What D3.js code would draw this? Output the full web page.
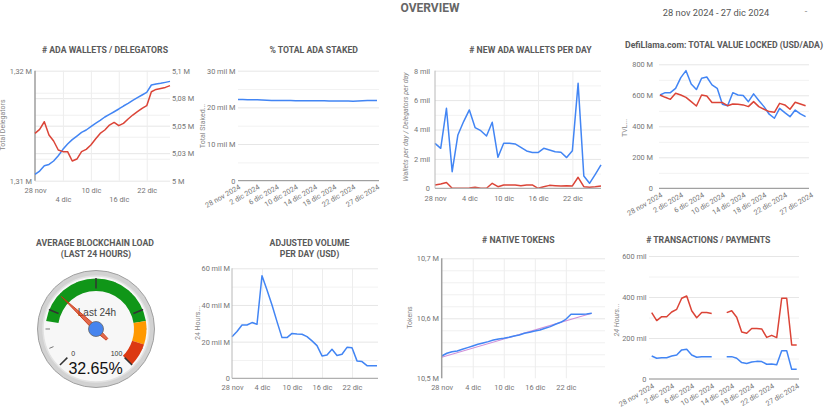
<!DOCTYPE html>
<html><head><meta charset="utf-8">
<script src="https://cdn.jsdelivr.net/npm/d3@7/dist/d3.min.js"></script>
<style>html,body{margin:0;padding:0;background:#fff;overflow:hidden}</style>
</head><body>
<svg id="chart" width="825" height="415"></svg>
<script>
// ---------------- DATA ----------------
const startDay = "2024-11-28";
const endDay = "2024-12-27";
const monthAbbr = ["ene","feb","mar","abr","may","jun","jul","ago","sep","oct","nov","dic"];
const shortTickDays = ["2024-11-28","2024-12-04","2024-12-10","2024-12-16","2024-12-22"];
const longTickDays = ["2024-11-28","2024-12-02","2024-12-06","2024-12-10","2024-12-14","2024-12-18","2024-12-22","2024-12-27"];

// # ADA WALLETS / DELEGATORS (millions)
const walletsTotal = [5.0058,5.0088,5.0136,5.0148,5.0179,5.0227,5.0285,5.0333,5.0373,5.0406,5.0439,5.0461,5.0491,5.0521,5.0548,5.0579,5.0603,5.0627,5.0652,5.0679,5.0703,5.0730,5.0755,5.0779,5.0803,5.0870,5.0879,5.0885,5.0894,5.0903];
const delegatorsTotal = [1.31430,1.31467,1.31536,1.31415,1.31361,1.31279,1.31264,1.31264,1.31179,1.31197,1.31264,1.31285,1.31324,1.31379,1.31430,1.31461,1.31506,1.31530,1.31500,1.31521,1.31561,1.31597,1.31627,1.31658,1.31682,1.31809,1.31830,1.31839,1.31848,1.31864];
const walletsRightTicks = [5.0,5.025,5.05,5.075,5.1];
const walletsRightLabels = ["5 M","5,03 M","5,05 M","5,08 M","5,1 M"];
const delegLeftTicks = [1.31,1.32];
const delegLeftLabels = ["1,31 M","1,32 M"];
const delegMinorGrid = [1.312,1.314,1.316,1.318];

// % TOTAL ADA STAKED (mil M)
const stakedTotal = [22.15,22.15,22.1,22.1,22.05,22.0,21.95,21.9,21.9,21.85,21.85,21.85,21.8,21.8,21.8,21.8,21.8,21.8,21.8,21.75,21.75,21.75,21.75,21.75,21.7,21.75,21.8,21.85,21.85,21.85];
const stakedTicks = [0,10,20,30];
const stakedLabels = ["0","10 mil M","20 mil M","30 mil M"];
const stakedMinor = [5,15,25];

// # NEW ADA WALLETS PER DAY (mil)
const newWallets = [3.06,2.72,5.44,1.13,3.63,4.54,5.33,4.13,3.92,3.56,4.49,2.11,3.06,3.06,3.02,2.79,2.54,2.43,2.43,2.72,2.61,2.49,2.45,2.09,2.56,7.14,0.84,0.34,0.95,1.59];
const newDelegators = [0.23,0.29,0.39,0,0,0,0.02,0.07,0,0,0.34,0.11,0.23,0.23,0.23,0.18,0.23,0.23,0,0.11,0.2,0.18,0.16,0.18,0.16,0.75,0.11,0.07,0.11,0.16];
const newTicks = [0,2,4,6,8];
const newLabels = ["0","2 mil","4 mil","6 mil","8 mil"];
const newMinor = [1,3,5,7];

// DefiLlama TVL (M)
const tvlUSD = [602,617,617,645,714,759,673,637,710,718,667,645,542,533,617,602,598,559,609,566,527,478,452,516,488,462,505,480,462];
const tvlADA = [602,587,574,613,602,587,559,531,602,596,553,553,553,533,544,542,538,527,559,527,510,495,490,548,538,510,555,544,533];
const tvlTicks = [0,200,400,600,800];
const tvlLabels = ["0","200 M","400 M","600 M","800 M"];
const tvlMinor = [100,300,500,700];

// Gauge
const gaugeValue = 32.65;
const gaugeBands = [{from:20,to:80,color:"#109618"},{from:80,to:90,color:"#ff9900"},{from:90,to:100,color:"#dc3912"}];
const gaugeMajor = [0,25,50,75,100];
const gaugeMinor = [8.33,16.67,33.33,41.67,58.33,66.67,83.33,91.67];

// ADJUSTED VOLUME PER DAY (mil M)
const adjVolume = [22.7,25.5,29.1,29.1,30.4,29.5,56.0,48.2,40.0,30.9,22.2,22.2,24.5,24.2,24.0,22.7,20.4,17.8,12.2,12.7,15.8,12.4,13.1,16.9,16.7,9.5,9.1,6.9,6.9,6.9];
const volTicks = [0,20,40,60];
const volLabels = ["0","20 mil M","40 mil M","60 mil M"];
const volMinor = [10,30,50];

// # NATIVE TOKENS (M)
const nativeTokens = [10.5372,10.5417,10.5444,10.5456,10.5483,10.5511,10.5539,10.5567,10.5589,10.5611,10.5639,10.5656,10.5667,10.5683,10.5706,10.5722,10.5750,10.5767,10.5789,10.5806,10.5833,10.5861,10.5900,10.5933,10.5983,10.6067,10.6067,10.6067,10.6072,10.6083];
const tokensTrendEnds = [10.535,10.6083];
const tokTicks = [10.5,10.6,10.7];
const tokLabels = ["10,5 M","10,6 M","10,7 M"];
const tokMinor = [10.52,10.54,10.56,10.58,10.62,10.64,10.66,10.68];

// # TRANSACTIONS / PAYMENTS (mil)
const txTransactions = [324,285,304,304,327,340,394,405,333,299,324,324,320,null,null,324,333,301,229,223,246,246,244,203,213,202,394,394,166,166];
const txPayments = [112,101,104,104,112,117,142,145,117,106,109,109,109,null,null,109,109,101,80,76,83,86,85,72,73,70,138,138,47,47];
const txTicks = [0,200,400,600];
const txLabels = ["0","200 mil","400 mil","600 mil"];
const txMinor = [100,300,500];

// ---------------- DRAW ----------------
const FONT = "Roboto, 'Noto Sans', sans-serif";
const GFONT = "'Liberation Sans', Arial, sans-serif";
const BLUE = "#4285f4", RED = "#db4437";
const parse = d3.timeParse("%Y-%m-%d");
const d0 = parse(startDay), d1 = parse(endDay);
const days = d3.timeDay.range(d0, d3.timeDay.offset(d1, 1));
const shortTicks = shortTickDays.map(parse);
const longTicks = longTickDays.map(parse);
const fmtShort = d => `${d.getDate()} ${monthAbbr[d.getMonth()]}`;
const fmtLong = d => `${d.getDate()} ${monthAbbr[d.getMonth()]} ${d.getFullYear()}`;

const svg = d3.select("#chart").attr("font-family", FONT);

function txt(x, y, s, opt = {}) {
  const t = svg.append("text").attr("x", x).attr("y", y).text(s)
    .attr("font-family", opt.family || FONT)
    .attr("font-size", opt.size || 8)
    .attr("fill", opt.fill || "#666")
    .attr("text-anchor", opt.anchor || "middle");
  if (opt.weight) t.attr("font-weight", opt.weight);
  if (opt.italic) t.attr("font-style", "italic");
  if (opt.rotate) t.attr("transform", `rotate(${opt.rotate},${x},${y})`);
  return t;
}
function title(x, y, s) { return txt(x, y, s, {size: 8.7, weight: 700, fill: "#5a5a5a"}); }

function hGrid(y, vals, x0, x1, color) {
  const a = svg.append("g").attr("transform", `translate(${x0},0)`)
    .call(d3.axisLeft(y).tickValues(vals).tickSize(-(x1 - x0)).tickFormat(""));
  a.select(".domain").remove();
  a.selectAll("line").attr("stroke", color);
}
function vGrid(x, vals, yTop, yBot, color) {
  const a = svg.append("g").attr("transform", `translate(0,${yBot})`)
    .call(d3.axisBottom(x).tickValues(vals).tickSize(-(yBot - yTop)).tickFormat(""));
  a.select(".domain").remove();
  a.selectAll("line").attr("stroke", color);
}
function yLabels(y, vals, labels, xPos, side = "left") {
  const ax = (side === "left" ? d3.axisLeft(y) : d3.axisRight(y))
    .tickValues(vals).tickFormat((d, i) => labels[i]).tickSize(0).tickPadding(0);
  const a = svg.append("g").attr("transform", `translate(${xPos},0)`).call(ax);
  a.select(".domain").remove();
  a.selectAll("text").attr("font-family", FONT).attr("font-size", 7.4).attr("fill", "#757575");
}
function xLabelsFlat(x, ticks, yPos, twoRows) {
  const a = svg.append("g").attr("transform", `translate(0,${yPos})`)
    .call(d3.axisBottom(x).tickValues(ticks).tickFormat(fmtShort).tickSize(0).tickPadding(0));
  a.select(".domain").remove();
  a.selectAll("text").attr("font-family", FONT).attr("font-size", 7.4).attr("fill", "#757575")
    .attr("dy", "0.71em").attr("y", (d, i) => (twoRows && i % 2) ? 9 : 0);
}
function xLabelsRot(x, ticks, yPos) {
  const a = svg.append("g").attr("transform", `translate(0,${yPos})`)
    .call(d3.axisBottom(x).tickValues(ticks).tickFormat(fmtLong).tickSize(0).tickPadding(0));
  a.select(".domain").remove();
  a.selectAll("text").attr("font-family", FONT).attr("font-size", 7.2).attr("fill", "#757575")
    .attr("text-anchor", "end").attr("y", 0).attr("dy", "0.71em").attr("transform", "rotate(-30)");
}
function baseline(x0, x1, yv, color = "#9a9a9a", w = 1) {
  svg.append("line").attr("x1", x0).attr("x2", x1).attr("y1", yv).attr("y2", yv).attr("stroke", color).attr("stroke-width", w);
}
function vline(xv, y0, y1, color = "#aaa", w = 1) {
  svg.append("line").attr("x1", xv).attr("x2", xv).attr("y1", y0).attr("y2", y1).attr("stroke", color).attr("stroke-width", w);
}
function series(x, y, vals, color, w = 1.5) {
  const line = d3.line().defined(v => v != null).x((v, i) => x(days[i])).y(v => y(v));
  svg.append("path").datum(vals).attr("d", line).attr("fill", "none").attr("stroke", color)
    .attr("stroke-width", w).attr("stroke-linejoin", "round");
}

// Header
txt(430, 12, "OVERVIEW", {size: 12, weight: 700, fill: "#666"});
txt(716, 16, "28 nov 2024 - 27 dic 2024", {size: 9.3, fill: "#555"});
txt(806, 14, "-", {size: 9, fill: "#888"});

// ---- Chart 1: ADA wallets / delegators ----
{
  const x = d3.scaleTime().domain([d0, d1]).range([35, 170]);
  const yL = d3.scaleLinear().domain([1.31, 1.32]).range([180.7, 70.7]);
  const yR = d3.scaleLinear().domain([5.0, 5.1]).range([180.7, 70.7]);
  hGrid(yL, delegMinorGrid, 35, 170, "#f0f0f0");
  hGrid(yR, walletsRightTicks, 35, 170, "#e6e6e6");
  vGrid(x, shortTicks.slice(1), 70.7, 180.7, "#ededed");
  vline(35, 70.7, 180.7, "#9e9e9e", 1.5);
  series(x, yR, walletsTotal, BLUE);
  series(x, yL, delegatorsTotal, RED);
  yLabels(yL, delegLeftTicks, delegLeftLabels, 32);
  yLabels(yR, walletsRightTicks, walletsRightLabels, 172, "right");
  xLabelsFlat(x, shortTicks, 187.5, true);
  title(105, 53, "# ADA WALLETS / DELEGATORS");
  txt(5, 125, "Total Delegators", {size: 7, fill: "#888", rotate: -90});
}

// ---- Chart 2: % total ADA staked ----
{
  const x = d3.scaleTime().domain([d0, d1]).range([238, 377]);
  const y = d3.scaleLinear().domain([0, 30]).range([180.7, 70.7]);
  hGrid(y, stakedMinor, 238, 379, "#f2f2f2");
  hGrid(y, stakedTicks.slice(1), 238, 379, "#e6e6e6");
  series(x, y, stakedTotal, BLUE);
  baseline(238, 379, y(0), "#8a8a8a");
  yLabels(y, stakedTicks, stakedLabels, 235.5);
  xLabelsRot(x, longTicks, 184);
  title(313.7, 52.7, "% TOTAL ADA STAKED");
  txt(205, 126, "Total Staked...", {size: 7, fill: "#888", rotate: -90});
}

// ---- Chart 3: new ADA wallets per day ----
{
  const x = d3.scaleTime().domain([d0, d1]).range([435, 601]);
  const y = d3.scaleLinear().domain([0, 8]).range([188.3, 70.7]);
  hGrid(y, newMinor, 435, 601, "#f2f2f2");
  hGrid(y, newTicks.slice(1), 435, 601, "#e6e6e6");
  vGrid(x, shortTicks.slice(1), 70.7, 188.3, "#ededed");
  series(x, y, newWallets, BLUE);
  series(x, y, newDelegators, RED);
  baseline(435, 601, y(0), "#b0b0b0", 1.2);
  vline(435, 70.7, 188.3, "#b8b8b8", 1);
  yLabels(y, newTicks, newLabels, 430);
  xLabelsFlat(x, shortTicks, 195.5, false);
  title(530.5, 52.7, "# NEW ADA WALLETS PER DAY");
  txt(408, 127, "Wallets per day / Delegators per day", {size: 7, fill: "#888", rotate: -90, italic: true});
}

// ---- Chart 4: DefiLlama TVL ----
{
  const x = d3.scaleTime().domain([d0, d1]).range([660, 810.8]);
  const y = d3.scaleLinear().domain([0, 800]).range([188.3, 64.3]);
  hGrid(y, tvlMinor, 659, 809, "#f2f2f2");
  hGrid(y, tvlTicks.slice(1), 659, 809, "#e6e6e6");
  series(x, y, tvlUSD, BLUE);
  series(x, y, tvlADA, RED);
  baseline(659, 809, y(0), "#8a8a8a");
  yLabels(y, tvlTicks, tvlLabels, 653);
  xLabelsRot(x, longTicks, 192);
  title(724, 47.7, "DefiLlama.com: TOTAL VALUE LOCKED (USD/ADA)");
  txt(626.5, 128, "TVL...", {size: 7, fill: "#888", rotate: -90});
}

// ---- Chart 5: Gauge ----
{
  title(95, 246, "AVERAGE BLOCKCHAIN LOAD");
  title(96, 257, "(LAST 24 HOURS)");
  const cx = 96, cy = 329;
  const g = svg.append("g").attr("transform", `translate(${cx},${cy})`);
  const ang = d3.scaleLinear().domain([0, 100]).range([-135, 135]);
  const rad = a => a * Math.PI / 180;
  const pt = (r, v) => [r * Math.sin(rad(ang(v))), -r * Math.cos(rad(ang(v)))];
  g.append("circle").attr("r", 58.5).attr("fill", "#d2d2d2").attr("stroke", "#a0a0a0").attr("stroke-width", 1);
  g.append("circle").attr("r", 53).attr("fill", "#f7f7f7").attr("stroke", "#e2e2e2").attr("stroke-width", 1.5);
  gaugeMinor.forEach(v => {
    const [xa, ya] = pt(46, v), [xb, yb] = pt(50.5, v);
    g.append("line").attr("x1", xa).attr("y1", ya).attr("x2", xb).attr("y2", yb).attr("stroke", "#777").attr("stroke-width", 1);
  });
  const arc = d3.arc().innerRadius(38).outerRadius(50.5);
  gaugeBands.forEach(b => g.append("path")
    .attr("d", arc({startAngle: rad(ang(b.from)), endAngle: rad(ang(b.to))})).attr("fill", b.color));
  gaugeMajor.forEach(v => {
    const [xa, ya] = pt(40.5, v), [xb, yb] = pt(51, v);
    g.append("line").attr("x1", xa).attr("y1", ya).attr("x2", xb).attr("y2", yb).attr("stroke", "#333").attr("stroke-width", 1.5);
  });
  const [lx0, ly0] = pt(33, 0), [lx1, ly1] = pt(33, 100);
  g.append("text").attr("x", lx0 - 1.5).attr("y", ly0 + 4).text(gaugeMajor[0]).attr("font-family", GFONT).attr("font-size", 7).attr("fill", "#333").attr("text-anchor", "start");
  g.append("text").attr("x", lx1 + 3).attr("y", ly1 + 4).text(gaugeMajor[4]).attr("font-family", GFONT).attr("font-size", 7).attr("fill", "#333").attr("text-anchor", "end");
  g.append("text").attr("x", 1).attr("y", -13.5).text("Last 24h").attr("font-family", GFONT).attr("font-size", 10).attr("fill", "#444").attr("text-anchor", "middle");
  g.append("text").attr("x", -0.5).attr("y", 44.5).text(gaugeValue.toFixed(2) + "%").attr("font-family", GFONT).attr("font-size", 16).attr("fill", "#111").attr("text-anchor", "middle");
  const needle = [[0, -47.5], [2.4, -2], [1.2, 15], [-1.2, 15], [-2.4, -2]];
  g.append("polygon").attr("points", needle.map(p => p.join(",")).join(" "))
    .attr("transform", `rotate(${ang(gaugeValue)})`)
    .attr("fill", "#dc3912").attr("fill-opacity", 0.75).attr("stroke", "#c63310").attr("stroke-width", 0.8);
  g.append("circle").attr("r", 7.5).attr("fill", "#4684ee").attr("stroke", "#666").attr("stroke-width", 0.8);
}

// ---- Chart 6: Adjusted volume ----
{
  const x = d3.scaleTime().domain([d0, d1]).range([232, 377]);
  const y = d3.scaleLinear().domain([0, 60]).range([378.3, 268.3]);
  hGrid(y, volMinor, 232, 378, "#f2f2f2");
  hGrid(y, volTicks.slice(1), 232, 378, "#e6e6e6");
  vGrid(x, shortTicks.slice(1), 268.3, 378.3, "#ededed");
  series(x, y, adjVolume, BLUE);
  baseline(232, 378, y(0), "#b0b0b0", 1.2);
  vline(232, 268.3, 378.3, "#b8b8b8", 1);
  yLabels(y, volTicks, volLabels, 230);
  xLabelsFlat(x, shortTicks, 384.5, false);
  title(309.5, 246, "ADJUSTED VOLUME");
  title(309.5, 257, "PER DAY (USD)");
  txt(200, 323, "24 Hours...", {size: 7, fill: "#888", rotate: -90});
}

// ---- Chart 7: Native tokens ----
{
  const x = d3.scaleTime().domain([d0, d1]).range([441.7, 591.7]);
  const y = d3.scaleLinear().domain([10.5, 10.7]).range([378.3, 258.3]);
  hGrid(y, tokMinor, 441.7, 605, "#f0f0f0");
  hGrid(y, tokTicks.slice(1), 441.7, 605, "#e6e6e6");
  vGrid(x, shortTicks.slice(1), 258.3, 378.3, "#ededed");
  const tl = d3.line().x((v, i) => x(i === 0 ? d0 : d1)).y(v => y(v));
  svg.append("path").datum(tokensTrendEnds).attr("d", tl).attr("fill", "none").attr("stroke", "#cf8fd8").attr("stroke-width", 1.1);
  series(x, y, nativeTokens, BLUE);
  vline(441.7, 258.3, 378.3, "#a0a0a0", 1.5);
  yLabels(y, tokTicks, tokLabels, 439);
  xLabelsFlat(x, shortTicks, 384.5, false);
  title(518.3, 243.3, "# NATIVE TOKENS");
  txt(411.5, 317.5, "Tokens", {size: 7, fill: "#888", rotate: -90});
}

// ---- Chart 8: Transactions / payments ----
{
  const x = d3.scaleTime().domain([d0, d1]).range([651.7, 796.7]);
  const y = d3.scaleLinear().domain([0, 600]).range([379, 256]);
  hGrid(y, txMinor, 649, 799, "#f2f2f2");
  hGrid(y, txTicks.slice(1), 649, 799, "#e6e6e6");
  series(x, y, txTransactions, RED);
  series(x, y, txPayments, BLUE);
  baseline(649, 799, y(0), "#8a8a8a");
  yLabels(y, txTicks, txLabels, 646.5);
  xLabelsRot(x, longTicks, 383);
  title(708.3, 243.3, "# TRANSACTIONS / PAYMENTS");
  txt(619, 320, "24 Hours...", {size: 7, fill: "#888", rotate: -90, italic: true});
}
</script>
</body></html>
